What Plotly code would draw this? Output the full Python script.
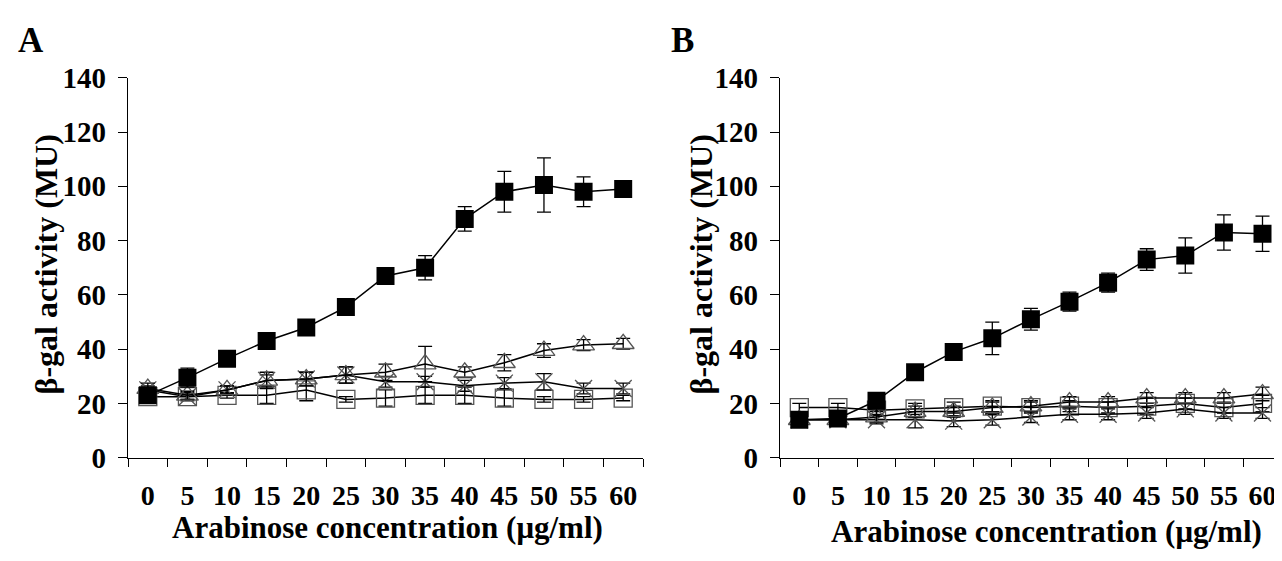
import plotly.graph_objects as go

conc = ["0", "5", "10", "15", "20", "25", "30", "35", "40", "45", "50", "55", "60"]

# Panel A
a_filled = [23, 29.5, 36.5, 43, 48, 55.5, 67, 70, 88, 98, 100.5, 98, 99]
a_filled_err = [1.5, 3.5, 1.5, 1.5, 1.5, 1.5, 3, 4.5, 4.5, 7.5, 10, 5.5, 1]
a_tri = [25.5, 23, 25, 28.5, 29, 30.5, 31.5, 34.5, 31.5, 35, 39.5, 41.5, 42]
a_tri_err = [2, 1.5, 1.5, 3, 2.5, 3, 3, 6.5, 2, 3, 2.5, 2, 2]
a_x = [25, 22.5, 25, 28.5, 29, 30.5, 28, 28, 26.5, 27.5, 28, 25.5, 25.5]
a_x_err = [1.5, 1.5, 1.5, 2, 2.5, 3, 2, 2, 2, 2, 3, 2, 2]
a_sq = [22.5, 22.5, 23, 23, 25, 21.5, 22, 23, 23, 22, 21.5, 21.5, 22]
a_sq_err = [1, 1, 1, 3, 4, 1, 3, 3, 3, 3, 1, 1, 1]

# Panel B
b_filled = [14, 14.5, 21, 31.5, 39, 44, 51, 57.5, 64.5, 73, 74.5, 83, 82.5]
b_filled_err = [2, 2, 2, 2, 2, 6, 4, 3.5, 3.5, 4, 6.5, 6.5, 6.5]
b_tri = [14, 14, 15, 17, 17, 18.5, 19, 20.5, 20.5, 22, 22, 22, 23.5]
b_tri_err = [1.5, 1.5, 2, 2, 2, 2, 2, 2, 2, 2, 2, 2, 2.5]
b_x = [14, 14, 14, 14, 13.5, 14, 15, 16, 16, 16.5, 18, 16.5, 16.5]
b_x_err = [1.5, 1.5, 1.5, 3, 2, 2, 2, 2, 2, 2, 2, 2, 2]
b_sq = [18.5, 18.5, 17.5, 18, 18.5, 19, 18.5, 19, 18.5, 19, 20, 18.5, 20]
b_sq_err = [1.5, 1.5, 1.5, 2, 2, 2, 2, 2, 2, 3, 2, 2, 3]

W, H = 1282, 561
FONT = "Liberation Serif, Times New Roman, serif"
GRAY = "#555555"

fig = go.Figure()


def err(a):
    return dict(type="data", array=a, color="black", thickness=1.3, width=7)


def add_panel(xa, ya, sq, sqe, xx, xxe, tri, trie, filled, fe):
    fig.add_trace(go.Scatter(x=conc, y=sq, error_y=err(sqe), mode="lines+markers",
                             line=dict(color="black", width=1.5),
                             marker=dict(symbol="square-open", size=18, color=GRAY, line=dict(width=1.3, color=GRAY)),
                             xaxis=xa, yaxis=ya, showlegend=False))
    fig.add_trace(go.Scatter(x=conc, y=xx, error_y=err(xxe), mode="lines+markers",
                             line=dict(color="black", width=1.5),
                             marker=dict(symbol="x-thin-open", size=17, color=GRAY, line=dict(width=1.3, color=GRAY)),
                             xaxis=xa, yaxis=ya, showlegend=False))
    fig.add_trace(go.Scatter(x=conc, y=tri, error_y=err(trie), mode="lines+markers",
                             line=dict(color="black", width=1.5),
                             marker=dict(symbol="triangle-up-open", size=19, color=GRAY, line=dict(width=1.3, color=GRAY)),
                             xaxis=xa, yaxis=ya, showlegend=False))
    fig.add_trace(go.Scatter(x=conc, y=filled, error_y=err(fe), mode="lines+markers",
                             line=dict(color="black", width=1.5),
                             marker=dict(symbol="square", size=18, color="black"),
                             xaxis=xa, yaxis=ya, showlegend=False))


add_panel("x", "y", a_sq, a_sq_err, a_x, a_x_err, a_tri, a_tri_err, a_filled, a_filled_err)
add_panel("x2", "y2", b_sq, b_sq_err, b_x, b_x_err, b_tri, b_tri_err, b_filled, b_filled_err)

y0_px, ytop_px = 460, 57
ydom = [(H - y0_px) / H, (H - ytop_px) / H]
ax0, ax1 = 120, 635
cat_b = 38.6
bx0 = 772

xcommon = dict(type="category", tickson="boundaries", ticks="outside", ticklen=8, tickwidth=1.3,
               tickcolor="black", showline=True, linecolor="black", linewidth=1.3, showgrid=False,
               zeroline=False, tickfont=dict(family=FONT, size=28, color="black", weight="bold"),
               ticklabelstandoff=12, fixedrange=True)
ycommon = dict(range=[0, 140], dtick=20, ticks="outside", ticklen=9, tickwidth=1.3, tickcolor="black",
               showline=True, linecolor="black", linewidth=1.3, showgrid=False, zeroline=False,
               tickfont=dict(family=FONT, size=29, color="black", weight="bold"), ticklabelstandoff=6,
               domain=ydom, fixedrange=True)

fig.update_layout(
    width=W, height=H, margin=dict(l=0, r=0, t=0, b=0),
    paper_bgcolor="white", plot_bgcolor="white",
    xaxis=dict(domain=[ax0 / W, ax1 / W], range=[-0.5, 12.5], anchor="y", **xcommon),
    yaxis=dict(anchor="x", **ycommon),
    xaxis2=dict(domain=[bx0 / W, 1.0], range=[-0.5, -0.5 + (W - bx0) / cat_b], anchor="y2", **xcommon),
    yaxis2=dict(anchor="x2", **ycommon),
)

title_font = dict(family=FONT, size=31, color="black", weight="bold")
ytitle_font = dict(family=FONT, size=32, color="black", weight="bold")
ann = [
    dict(text="A", x=8 / W, y=1 - 18 / H, xanchor="left", yanchor="middle",
         font=dict(family=FONT, size=35, color="black", weight="bold")),
    dict(text="B", x=661 / W, y=1 - 18 / H, xanchor="left", yanchor="middle",
         font=dict(family=FONT, size=35, color="black", weight="bold")),
    dict(text="Arabinose concentration (μg/ml)", x=379 / W, y=1 - 534 / H, xanchor="center",
         yanchor="middle", font=title_font),
    dict(text="Arabinose concentration (μg/ml)", x=1038 / W, y=1 - 538 / H, xanchor="center",
         yanchor="middle", font=title_font),
    dict(text="β-gal activity (MU)", x=38 / W, y=1 - 255 / H, xanchor="center", yanchor="middle",
         textangle=-90, font=ytitle_font),
    dict(text="β-gal activity (MU)", x=693 / W, y=1 - 255 / H, xanchor="center", yanchor="middle",
         textangle=-90, font=ytitle_font),
]
for a in ann:
    a.update(xref="paper", yref="paper", showarrow=False)
fig.update_layout(annotations=ann)

fig.write_html("out.html")
